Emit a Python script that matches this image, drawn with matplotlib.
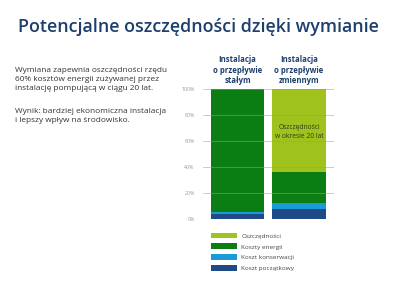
import matplotlib.pyplot as plt
from matplotlib.patches import Patch

# dane (w %)
bar_labels = ['Instalacja\no przepływie\nstałym', 'Instalacja\no przepływie\nzmiennym']
koszt_poczatkowy = [3.8, 7.4]
koszt_konserwacji = [1.8, 4.6]
koszty_energii = [94.4, 24.0]
oszczednosci = [0.0, 64.0]
yticks = [0, 20, 40, 60, 80, 100]

series_names = ['Oszczędności', 'Koszty energii', 'Koszt konserwacji', 'Koszt początkowy']
colors = {'Oszczędności': '#9fc31c', 'Koszty energii': '#0a7e12',
          'Koszt konserwacji': '#1a9ad8', 'Koszt początkowy': '#1e4a87'}
navy = '#1d3f6e'

plt.rcParams['font.family'] = ['Open Sans', 'DejaVu Sans']

fig = plt.figure(figsize=(4, 3), dpi=100)
fig.patch.set_facecolor('white')

fig.text(0.045, 0.893, 'Potencjalne oszczędności dzięki wymianie',
         fontsize=12.9, fontweight='semibold', color=navy, va='baseline')

fig.text(0.037, 0.775,
         'Wymiana zapewnia oszczędności rzędu\n60% kosztów energii zużywanej przez\ninstalację pompującą w ciągu 20 lat.',
         fontsize=5.95, color='#333333', va='top', linespacing=1.3)
fig.text(0.037, 0.64,
         'Wynik: bardziej ekonomiczna instalacja\ni lepszy wpływ na środowisko.',
         fontsize=5.95, color='#333333', va='top', linespacing=1.3)

ax = fig.add_axes([0.5075, 0.27, 0.3275, 0.433])
x = [0, 1]
width = 0.87
bottom = [0, 0]
for vals, name in [(koszt_poczatkowy, 'Koszt początkowy'),
                   (koszt_konserwacji, 'Koszt konserwacji'),
                   (koszty_energii, 'Koszty energii'),
                   (oszczednosci, 'Oszczędności')]:
    ax.bar(x, vals, width, bottom=bottom, color=colors[name], zorder=1)
    bottom = [b + v for b, v in zip(bottom, vals)]

for yv in yticks:
    ax.axhline(yv, color='#9a9a9a', lw=0.6, alpha=0.6, zorder=2)

ax.set_xlim(-0.561, 1.569)
ax.set_ylim(0, 100)
ax.set_yticks(yticks)
ax.set_yticklabels([f'{v}%' for v in yticks], fontsize=3.8, color='#999999')
ax.tick_params(axis='y', length=0, pad=6)
ax.set_xticks([])
for s in ax.spines.values():
    s.set_visible(False)

for xi, lab in zip(x, bar_labels):
    ax.text(xi, 103, lab, ha='center', va='bottom', fontsize=5.6,
            fontweight='bold', color=navy, linespacing=1.2)

ax.text(1, 67, 'Oszczędności\nw okresie 20 lat', ha='center', va='center',
        fontsize=4.8, color='#2b3a1a', linespacing=1.3, zorder=3)

handles = [Patch(facecolor=colors[n], edgecolor='none') for n in series_names]
fig.legend(handles, series_names, loc='upper left', bbox_to_anchor=(0.52, 0.233),
           frameon=False, fontsize=4.6, handlelength=4.2, handleheight=1.0,
           labelspacing=0.75, handletextpad=0.6, borderaxespad=0, labelcolor='#444444')

fig.savefig('out.png', dpi=100)
